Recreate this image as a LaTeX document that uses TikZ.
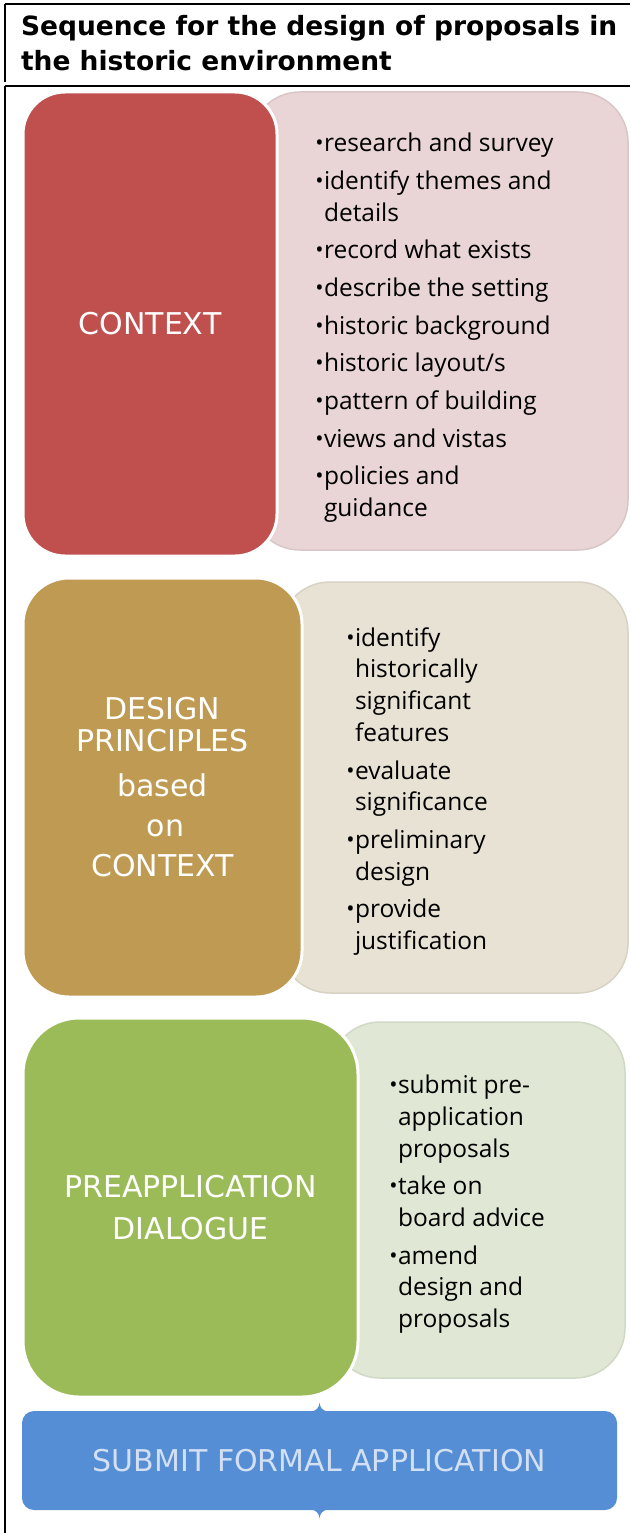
\documentclass[tikz,border=0pt]{standalone}
\usepackage{fontspec}
\setmainfont{Open Sans}
\newfontfamily\titlefont{DejaVu Sans}
\newfontfamily\boxfont{DejaVu Sans}
\usetikzlibrary{positioning}
\definecolor{contextRed}{HTML}{C0504D}
\definecolor{contextPink}{HTML}{E9D5D5}
\definecolor{principlesGold}{HTML}{BE9A52}
\definecolor{principlesBeige}{HTML}{E8E2D4}
\definecolor{dialogueGreen}{HTML}{9BBB59}
\definecolor{dialogueLight}{HTML}{E0E8D5}
\definecolor{submitBlue}{HTML}{558ED5}
\definecolor{submitText}{HTML}{D3DFF2}
\newcommand\itm{\makebox[9pt][c]{\raisebox{1pt}{\fontsize{22}{22}\selectfont\textbullet}}}
\newcommand\cont{\hspace*{9pt}}

\begin{document}
\begin{tikzpicture}[x=1pt,y=-1pt,
  every node/.style={inner sep=0pt,outer sep=0pt},
  stage/.style={draw=white,line width=3pt,text=white,align=center,
    font=\boxfont\fontsize{30}{32}\selectfont},
  detail/.style={draw=#1!93!black,fill=#1,line width=1.5pt},
  items/.style={anchor=north west,align=left,text=black,
    font=\fontsize{24.5}{31.7}\selectfont},
  ]
  \useasboundingbox (0,0) rectangle (630,1533);
  \draw[line width=2pt] (5,4) -- (630,4) (5,4) -- (5,82)
    (5,86) -- (630,86) (5,86) -- (5,1533);
  \node[anchor=north west,align=left,
    font=\titlefont\bfseries\fontsize{26.5}{35}\selectfont] (title) at (21,15)
    {Sequence for the design of proposals in\\the historic environment};

  \node[detail=contextPink,rounded corners=50pt,minimum width=378pt,
    minimum height=458pt] (contextBack) at (439,321) {};
  \node[stage,fill=contextRed,rounded corners=42pt,minimum width=254pt,
    minimum height=464pt] (context) at (150,324) {CONTEXT};
  \node[items] (contextItems) at (315,133) {%
    \itm research and survey\\[6pt]
    \itm identify themes and\\
    \cont details\\[6pt]
    \itm record what exists\\[6pt]
    \itm describe the setting\\[6pt]
    \itm historic background\\[6pt]
    \itm historic layout/s\\[6pt]
    \itm pattern of building\\[6pt]
    \itm views and vistas\\[6pt]
    \itm policies and\\
    \cont guidance};

  \node[detail=principlesBeige,rounded corners=50pt,minimum width=348pt,
    minimum height=411pt] (principlesBack) at (454,787.5) {};
  \node[stage,fill=principlesGold,rounded corners=46pt,minimum width=279pt,
    minimum height=419pt] (principles) at (162.5,787.5)
    {DESIGN\\PRINCIPLES\\[13pt]based\\[8pt]\hspace*{6pt}on\\[8pt]CONTEXT};
  \node[items] (principlesItems) at (346,627.5) {%
    \itm identify\\
    \cont historically\\
    \cont significant\\
    \cont features\\[6pt]
    \itm evaluate\\
    \cont significance\\[6pt]
    \itm preliminary\\
    \cont design\\[6pt]
    \itm provide\\
    \cont justification};

  \node[detail=dialogueLight,rounded corners=50pt,minimum width=295pt,
    minimum height=356pt] (dialogueBack) at (477.5,1200) {};
  \node[stage,fill=dialogueGreen,rounded corners=56pt,minimum width=335pt,
    minimum height=379pt] (dialogue) at (190.5,1207.5)
    {PREAPPLICATION\\[10pt]DIALOGUE};
  \node[items] (dialogueItems) at (389,1075) {%
    \itm submit pre-\\
    \cont application\\
    \cont proposals\\[6pt]
    \itm take on\\
    \cont board advice\\[6pt]
    \itm amend\\
    \cont design and\\
    \cont proposals};

  \node[fill=submitBlue,rounded corners=12pt,minimum width=595pt,
    minimum height=99pt,text=submitText,
    font=\boxfont\fontsize{30}{32}\selectfont] (submit) at (319.5,1460.5)
    {SUBMIT FORMAL APPLICATION};
  \fill[submitBlue] (submit.north) ++(-9,0.5) .. controls +(6,0) and +(0,4)
    .. ++(9,-9) .. controls +(0,4) and +(-6,0) .. ++(9,9) -- cycle;
  \fill[submitBlue] (submit.south) ++(-9,-0.5) .. controls +(6,0) and +(0,-4)
    .. ++(9,9) .. controls +(0,-4) and +(-6,0) .. ++(9,-9) -- cycle;
\end{tikzpicture}
\end{document}
